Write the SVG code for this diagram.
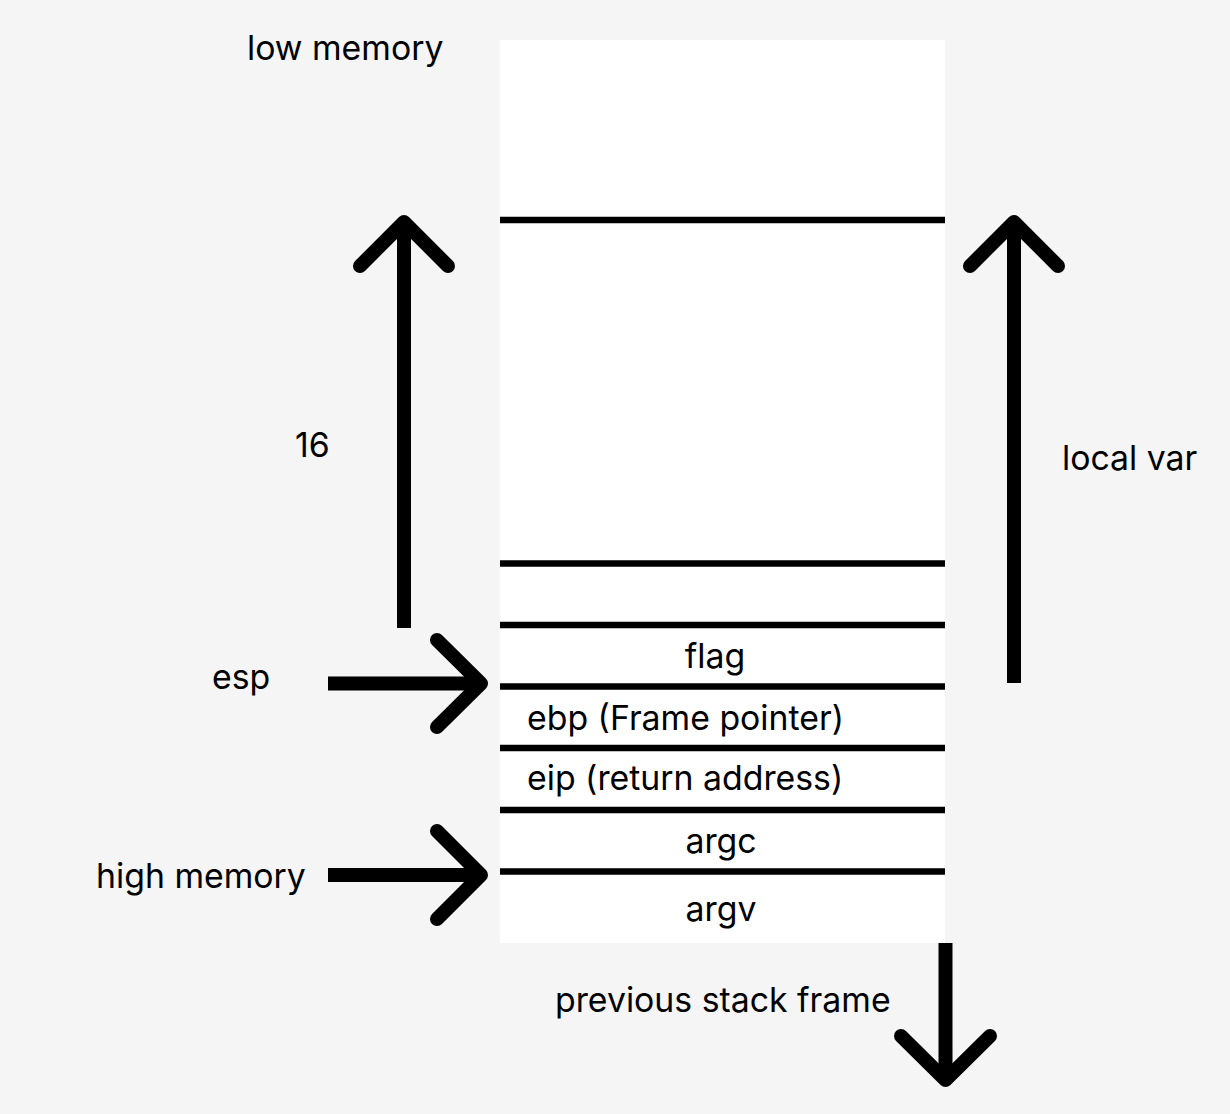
<svg xmlns="http://www.w3.org/2000/svg" width="1230" height="1114" viewBox="0 0 1230 1114">
<style>
.t{font-family:Inter,"Liberation Sans",sans-serif;font-size:33.8px;fill:#000}
.div{stroke:#000;stroke-width:6.5}
.arr{fill:none;stroke:#000;stroke-width:14;stroke-linejoin:round}
.head{fill:none;stroke:#000;stroke-width:14;stroke-linecap:round;stroke-linejoin:round}
</style>
<rect width="1230" height="1114" fill="#f5f5f5"/>
<g id="stack">
<rect x="500" y="40" width="445" height="903" fill="#fff"/>
<line class="div" x1="500" y1="220" x2="945" y2="220"/>
<line class="div" x1="500" y1="563.5" x2="945" y2="563.5"/>
<line class="div" x1="500" y1="625" x2="945" y2="625"/>
<line class="div" x1="500" y1="686.5" x2="945" y2="686.5"/>
<line class="div" x1="500" y1="748" x2="945" y2="748"/>
<line class="div" x1="500" y1="810" x2="945" y2="810"/>
<line class="div" x1="500" y1="871.5" x2="945" y2="871.5"/>
</g>
<g id="labels">
<text class="t" x="247" y="60">low memory</text>
<text class="t" x="1062" y="470">local var</text>
<text class="t" x="295" y="457">16</text>
<text class="t" x="212" y="689">esp</text>
<text class="t" x="96" y="888">high memory</text>
<text class="t" x="555" y="1012">previous stack frame</text>
<text class="t" x="715" y="668" text-anchor="middle">flag</text>
<text class="t" x="527" y="730">ebp (Frame pointer)</text>
<text class="t" x="527" y="790">eip (return address)</text>
<text class="t" x="721" y="853" text-anchor="middle">argc</text>
<text class="t" x="721" y="921" text-anchor="middle">argv</text>
</g>
<g id="connectors">
<line class="arr" x1="404" y1="628" x2="404" y2="224"/>
<polyline class="head" points="360,266 404,222 448,266"/>
<line class="arr" x1="1014" y1="683" x2="1014" y2="224"/>
<polyline class="head" points="970,266 1014,222 1058,266"/>
<line class="arr" x1="328" y1="683.5" x2="479" y2="683.5"/>
<polyline class="head" points="437,640 481,683.5 437,727"/>
<line class="arr" x1="328" y1="875" x2="479" y2="875"/>
<polyline class="head" points="437,831 481,875 437,919"/>
<line class="arr" x1="945.5" y1="943" x2="945.5" y2="1078"/>
<polyline class="head" points="901,1036 945.5,1080 990,1036"/>
</g>
</svg>
